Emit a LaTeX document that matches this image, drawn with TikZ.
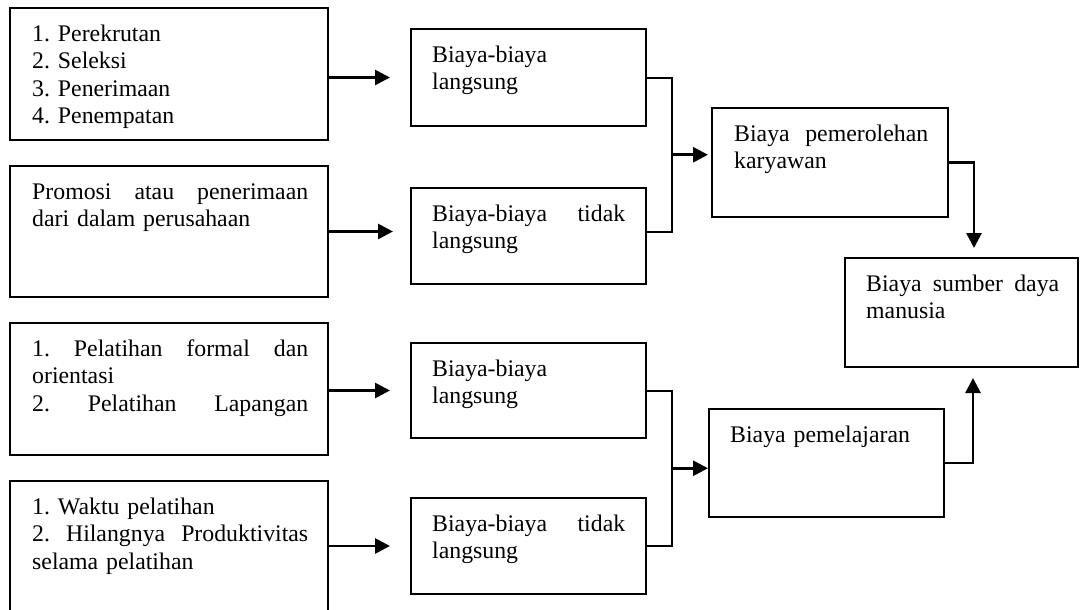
\documentclass[tikz,border=0pt]{standalone}
\usepackage{fontspec}
\setmainfont{Liberation Serif}
\usetikzlibrary{arrows.meta,calc}
\newcommand\firstln{\rule{0pt}{18pt}}
\begin{document}
\frenchspacing
\begin{tikzpicture}[x=1pt,y=-1pt,
  box/.style={draw,line width=2pt,inner sep=0pt,outer sep=0pt},
  txt/.style={inner sep=0pt,anchor=north west,align=left,
    font=\fontsize{23.8}{27.5}\selectfont\frenchspacing},
  link/.style={line width=2pt},
  arr/.style={line width=2.7pt,-{Triangle[length=15pt,width=15pt]}}]
\useasboundingbox (0,0) rectangle (1081,610);
\clip (0,0) rectangle (1081,610);

% source boxes (left column)
\node[box,minimum width=318pt,minimum height=132pt] (A) at (169,74) {};
\node[box,minimum width=318pt,minimum height=131pt] (B) at (169,231.5) {};
\node[box,minimum width=318pt,minimum height=132pt] (C) at (169,389) {};
\node[box,minimum width=318pt,minimum height=159pt] (D) at (169,560.5) {};

% cost type boxes (middle column)
\node[box,minimum width=235pt,minimum height=97pt] (E) at (528.5,77.5) {};
\node[box,minimum width=235pt,minimum height=96pt] (F) at (528.5,236) {};
\node[box,minimum width=235pt,minimum height=95pt] (G) at (528.5,390.5) {};
\node[box,minimum width=235pt,minimum height=96pt] (H) at (528.5,546) {};

% result boxes (right)
\node[box,minimum width=236pt,minimum height=109pt] (I) at (830,162.5) {};
\node[box,minimum width=233pt,minimum height=109pt] (J) at (961.5,312.5) {};
\node[box,minimum width=235pt,minimum height=108pt] (K) at (826.5,463) {};

% texts
\node[txt,text width=276pt] (tA) at ($(A.north west)+(22,15)$)
  {\firstln 1. Perekrutan\\2. Seleksi\\3. Penerimaan\\4. Penempatan};
\node[txt,text width=276pt] (tB) at ($(B.north west)+(22,15)$)
  {\firstln Promosi\hfill atau\hfill penerimaan\\dari dalam perusahaan};
\node[txt,text width=276pt] (tC) at ($(C.north west)+(22,15)$)
  {\firstln 1.\hfill Pelatihan\hfill formal\hfill dan\\orientasi\\2.\hfill Pelatihan\hfill Lapangan};
\node[txt,text width=276pt] (tD) at ($(D.north west)+(22,15)$)
  {\firstln 1. Waktu pelatihan\\2.\hfill Hilangnya\hfill Produktivitas\\selama pelatihan};

\node[txt,text width=193pt] (tE) at ($(E.north west)+(21,15)$)
  {\firstln Biaya-biaya\\langsung};
\node[txt,text width=193pt] (tF) at ($(F.north west)+(21,15)$)
  {\firstln Biaya-biaya\hfill tidak\\langsung};
\node[txt,text width=193pt] (tG) at ($(G.north west)+(21,15)$)
  {\firstln Biaya-biaya\\langsung};
\node[txt,text width=193pt] (tH) at ($(H.north west)+(21,15)$)
  {\firstln Biaya-biaya\hfill tidak\\langsung};

\node[txt,text width=194pt] (tI) at ($(I.north west)+(22,15)$)
  {\firstln Biaya\hfill pemerolehan\\karyawan};
\node[txt,text width=193pt] (tJ) at ($(J.north west)+(21,15)$)
  {\firstln Biaya\hfill sumber\hfill daya\\manusia};
\node[txt,text width=194pt] (tK) at ($(K.north west)+(21,15)$)
  {\firstln Biaya pemelajaran};

% arrows from sources to cost types
\draw[arr,shorten >=21pt] (A.east |- E.west) -- (E.west);
\draw[arr,shorten >=18pt] (B.east) -- (B.east -| F.west);
\draw[arr,shorten >=21pt] (C.east |- G.west) -- (G.west);
\draw[arr,shorten >=21pt] (D.east |- H.west) -- (H.west);

% upper bracket into acquisition cost
\draw[link] (E.east) -- ++(26,0) |- ([yshift=4pt]F.east);
\coordinate (m1) at ($(E.east)!0.5!([yshift=4pt]F.east)+(26,0)$);
\draw[arr,shorten >=4pt] (m1) -- (m1 -| I.west);

% lower bracket into learning cost
\draw[link] (G.east) -- ++(26,0) |- (H.east);
\coordinate (m2) at ($(G.east)!0.5!(H.east)+(26,0)$);
\draw[arr,shorten >=1pt] (m2) -- (m2 -| K.west);

% into human resource cost
\coordinate (pI) at ($(J.north west)+(129,0)$);
\coordinate (pK) at ($(J.south west)+(128,0)$);
\draw[arr,shorten >=10pt] (I.east) -| (pI);
\draw[arr,shorten >=11pt] (K.east) -| (pK);
\end{tikzpicture}
\end{document}
